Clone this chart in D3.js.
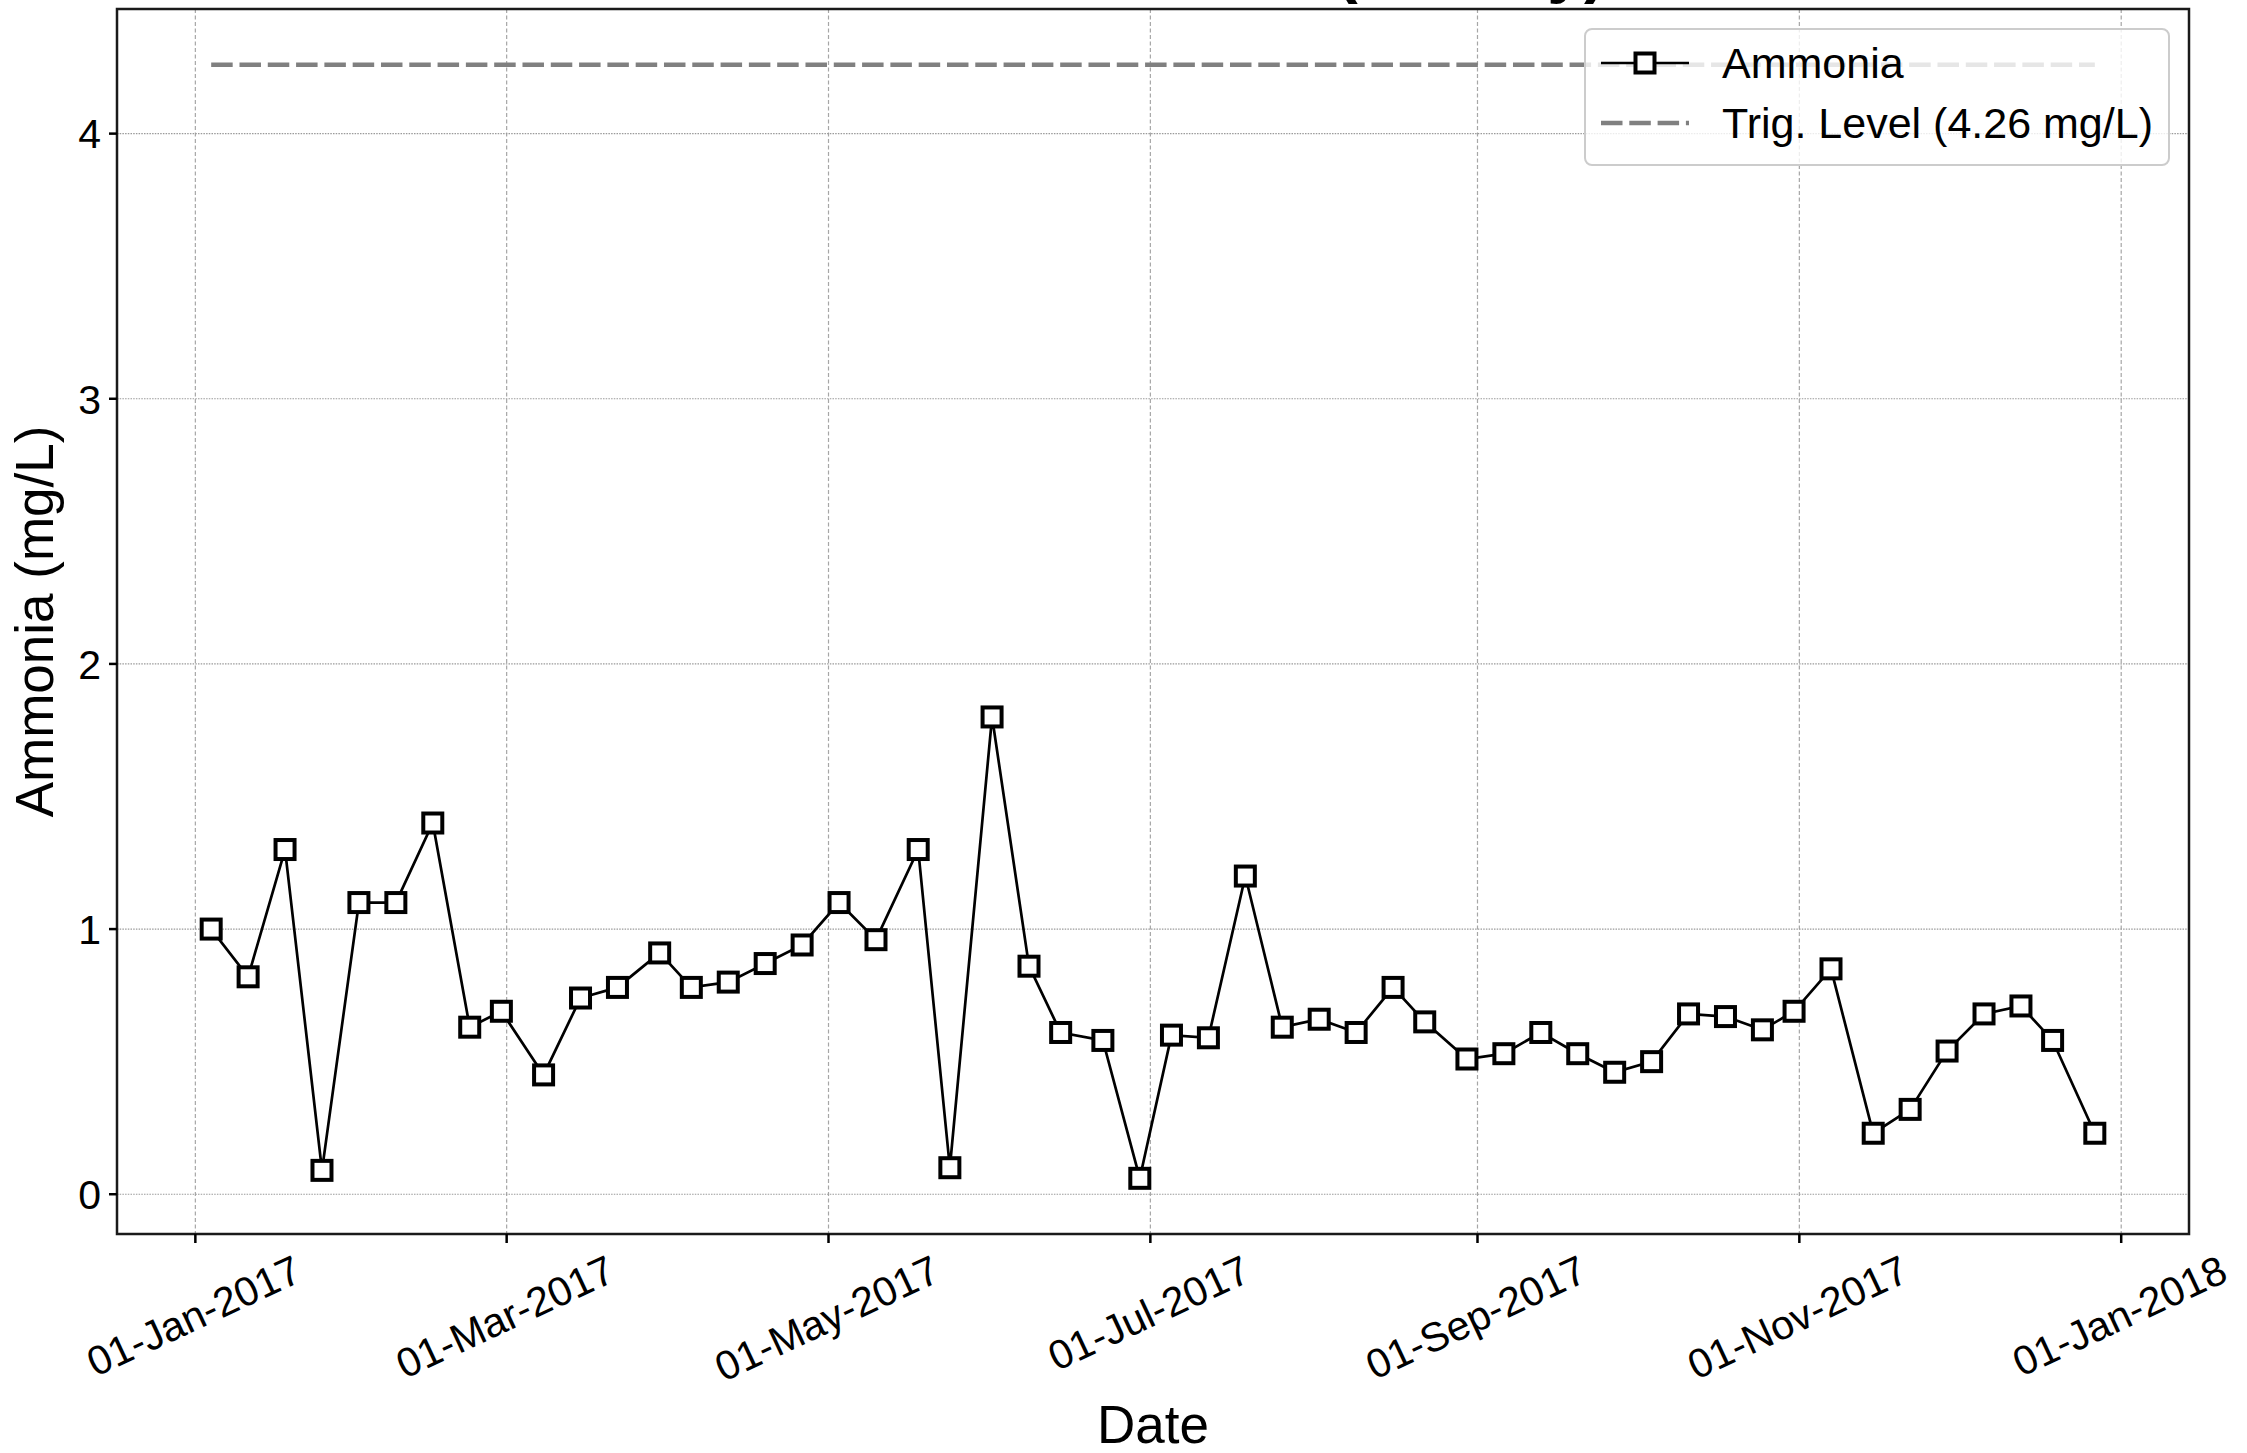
<!DOCTYPE html>
<html>
<head>
<meta charset="utf-8">
<script src="https://cdn.jsdelivr.net/npm/d3@7"></script>
<style>
  html, body { margin: 0; padding: 0; background: #ffffff; }
  svg { display: block; font-family: "Liberation Sans", Arial, Helvetica, sans-serif; }
</style>
</head>
<body>
<svg id="chart" width="2247" height="1453"></svg>
<script>
// Weekly ammonia samples, 2017
const sampleDates = [
  "2017-01-04", "2017-01-11", "2017-01-18", "2017-01-25", "2017-02-01", "2017-02-08",
  "2017-02-15", "2017-02-22", "2017-02-28", "2017-03-08", "2017-03-15", "2017-03-22",
  "2017-03-30", "2017-04-05", "2017-04-12", "2017-04-19", "2017-04-26", "2017-05-03",
  "2017-05-10", "2017-05-18", "2017-05-24", "2017-06-01", "2017-06-08", "2017-06-14",
  "2017-06-22", "2017-06-29", "2017-07-05", "2017-07-12", "2017-07-19", "2017-07-26",
  "2017-08-02", "2017-08-09", "2017-08-16", "2017-08-22", "2017-08-30", "2017-09-06",
  "2017-09-13", "2017-09-20", "2017-09-27", "2017-10-04", "2017-10-11", "2017-10-18",
  "2017-10-25", "2017-10-31", "2017-11-07", "2017-11-15", "2017-11-22", "2017-11-29",
  "2017-12-06", "2017-12-13", "2017-12-19", "2017-12-27"
];
const ammoniaValues = [
  1.00, 0.82, 1.30, 0.09, 1.10, 1.10,
  1.40, 0.63, 0.69, 0.45, 0.74, 0.78,
  0.91, 0.78, 0.80, 0.87, 0.94, 1.10,
  0.96, 1.30, 0.10, 1.80, 0.86, 0.61,
  0.58, 0.06, 0.60, 0.59, 1.20, 0.63,
  0.66, 0.61, 0.78, 0.65, 0.51, 0.53,
  0.61, 0.53, 0.46, 0.50, 0.68, 0.67,
  0.62, 0.69, 0.85, 0.23, 0.32, 0.54,
  0.68, 0.71, 0.58, 0.23
];
const triggerLevel = 4.26;
const xTickDates = ["2017-01-01", "2017-03-01", "2017-05-01", "2017-07-01", "2017-09-01", "2017-11-01", "2018-01-01"];
const yTickValues = [0, 1, 2, 3, 4];
const seriesLabels = ["Ammonia", "Trig. Level (4.26 mg/L)"];
const titleText = "Effluent Ammonia (Weekly)";

const parseDate = d3.utcParse("%Y-%m-%d");
const fmtTick = d3.utcFormat("%d-%b-%Y");
const points = sampleDates.map((d, i) => ({ date: parseDate(d), value: ammoniaValues[i] }));

const svg = d3.select("#chart");
const plot = { left: 117, top: 9, right: 2189, bottom: 1234 };

// Axis limits with 5% margins around the plotted data (samples + trigger line)
const t0 = d3.min(points, p => p.date), t1 = d3.max(points, p => p.date);
const tPad = (t1 - t0) * 0.05;
const vMin = Math.min(d3.min(ammoniaValues), triggerLevel);
const vMax = Math.max(d3.max(ammoniaValues), triggerLevel);
const vPad = (vMax - vMin) * 0.05;

const x = d3.scaleUtc()
  .domain([new Date(+t0 - tPad), new Date(+t1 + tPad)])
  .range([plot.left, plot.right]);
const y = d3.scaleLinear()
  .domain([vMin - vPad, vMax + vPad])
  .range([plot.bottom, plot.top]);

const xTicks = xTickDates.map(parseDate);

// Title (sits above the canvas edge, only its descenders reach the page)
svg.append("text")
  .attr("x", 1606).attr("y", -10)
  .attr("text-anchor", "end")
  .attr("font-size", 66).attr("font-weight", "bold")
  .attr("fill", "#000")
  .text(titleText);

// Grid
const grid = svg.append("g");
grid.selectAll("line.vg").data(xTicks).join("line")
  .attr("x1", d => x(d)).attr("x2", d => x(d))
  .attr("y1", plot.top).attr("y2", plot.bottom)
  .attr("stroke", "#a6a6a6").attr("stroke-width", 1.2)
  .attr("stroke-dasharray", "4,2.5");
grid.selectAll("line.hg").data(yTickValues).join("line")
  .attr("x1", plot.left).attr("x2", plot.right)
  .attr("y1", d => y(d)).attr("y2", d => y(d))
  .attr("stroke", "#9a9a9a").attr("stroke-width", 1.2)
  .attr("stroke-dasharray", "1.5,1.2");

// Trigger level line
svg.append("line")
  .attr("x1", x(t0)).attr("x2", x(t1))
  .attr("y1", y(triggerLevel)).attr("y2", y(triggerLevel))
  .attr("stroke", "#808080").attr("stroke-width", 4.5)
  .attr("stroke-dasharray", "21.5,6.8");

// Ammonia series
const line = d3.line().x(p => x(p.date)).y(p => y(p.value));
svg.append("path")
  .datum(points)
  .attr("d", line)
  .attr("fill", "none")
  .attr("stroke", "#000")
  .attr("stroke-width", 2.7);

const mk = 19;
svg.append("g").selectAll("rect").data(points).join("rect")
  .attr("x", p => x(p.date) - mk / 2)
  .attr("y", p => y(p.value) - mk / 2)
  .attr("width", mk).attr("height", mk)
  .attr("fill", "#fff").attr("stroke", "#000").attr("stroke-width", 4);

// Spines
svg.append("rect")
  .attr("x", plot.left).attr("y", plot.top)
  .attr("width", plot.right - plot.left).attr("height", plot.bottom - plot.top)
  .attr("fill", "none").attr("stroke", "#1a1a1a").attr("stroke-width", 2.5);

// Y axis ticks and labels
const yAx = svg.append("g");
yAx.selectAll("line").data(yTickValues).join("line")
  .attr("x1", plot.left - 8).attr("x2", plot.left)
  .attr("y1", d => y(d)).attr("y2", d => y(d))
  .attr("stroke", "#000").attr("stroke-width", 2.5);
yAx.selectAll("text").data(yTickValues).join("text")
  .attr("x", 101).attr("y", d => y(d))
  .attr("dy", "0.36em")
  .attr("text-anchor", "end")
  .attr("font-size", 41)
  .text(d => d3.format("d")(d));

// X axis ticks and rotated labels
const xAx = svg.append("g");
xAx.selectAll("line").data(xTicks).join("line")
  .attr("x1", d => x(d)).attr("x2", d => x(d))
  .attr("y1", plot.bottom).attr("y2", plot.bottom + 9)
  .attr("stroke", "#000").attr("stroke-width", 2.5);

const angle = 25, rad = angle * Math.PI / 180, fs = 41;
const labelTop = 1246;
xAx.selectAll("text").data(xTicks).join("text")
  .attr("font-size", fs)
  .attr("text-anchor", "middle")
  .attr("dominant-baseline", "central")
  .text(d => fmtTick(d))
  .each(function (d) {
    const L = this.getComputedTextLength();
    const hh = fs * 1.15;
    const cy = labelTop + (L * Math.sin(rad) + hh * Math.cos(rad)) / 2;
    d3.select(this).attr("transform", `translate(${x(d) - 1.5},${cy}) rotate(${-angle})`);
  });

// Axis titles
svg.append("text")
  .attr("x", (plot.left + plot.right) / 2).attr("y", 1443)
  .attr("text-anchor", "middle")
  .attr("font-size", 53)
  .text("Date");
svg.append("text")
  .attr("transform", `translate(53,${(plot.top + plot.bottom) / 2}) rotate(-90)`)
  .attr("text-anchor", "middle")
  .attr("font-size", 53)
  .text("Ammonia (mg/L)");

// Legend
const lg = svg.append("g");
lg.append("rect")
  .attr("x", 1585).attr("y", 29).attr("width", 584).attr("height", 136)
  .attr("rx", 7)
  .attr("fill", "#fff").attr("fill-opacity", 0.8)
  .attr("stroke", "#cccccc").attr("stroke-width", 2);
const rows = [63, 123];
lg.append("line")
  .attr("x1", 1601).attr("x2", 1689).attr("y1", rows[0]).attr("y2", rows[0])
  .attr("stroke", "#000").attr("stroke-width", 2.7);
lg.append("rect")
  .attr("x", 1645 - mk / 2).attr("y", rows[0] - mk / 2)
  .attr("width", mk).attr("height", mk)
  .attr("fill", "#fff").attr("stroke", "#000").attr("stroke-width", 4);
lg.append("line")
  .attr("x1", 1601).attr("x2", 1689).attr("y1", rows[1]).attr("y2", rows[1])
  .attr("stroke", "#808080").attr("stroke-width", 4.5)
  .attr("stroke-dasharray", "21.5,6.8");
lg.selectAll("text").data(seriesLabels).join("text")
  .attr("x", 1722).attr("y", (d, i) => rows[i])
  .attr("dy", "0.35em")
  .attr("font-size", 43)
  .text(d => d);
</script>
</body>
</html>
